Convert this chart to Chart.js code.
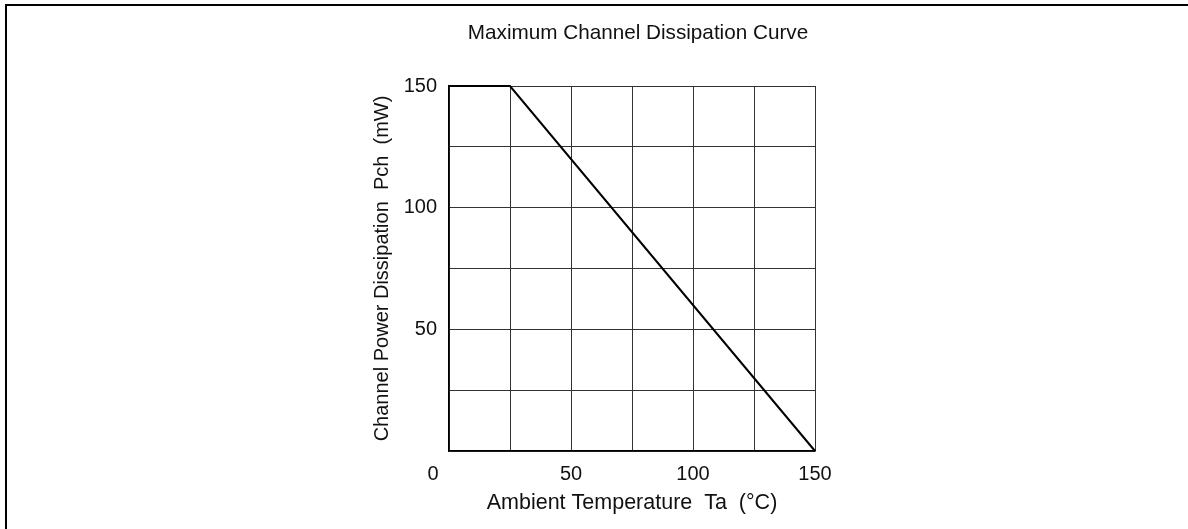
<!DOCTYPE html>
<html>
<head>
<meta charset="utf-8">
<script src="https://cdn.jsdelivr.net/npm/chart.js@4.4.0/dist/chart.umd.min.js"></script>
<style>
  html, body { margin: 0; padding: 0; background: #fff; overflow: hidden; width: 1188px; height: 529px; }
  #frame { position: absolute; left: 5px; top: 4px; width: 1300px; height: 600px; border-top: 2px solid #000; border-left: 2px solid #000; }
  #wrap { position: absolute; left: 0; top: 0; width: 1188px; height: 529px; }
</style>
</head>
<body>
<div id="frame"></div>
<div id="wrap"><canvas id="c" width="1188" height="529"></canvas></div>
<script>
// ---- data ----
const chartTitle = 'Maximum Channel Dissipation Curve';
const xTitle = 'Ambient Temperature  Ta  (\u00B0C)';
const yTitle = 'Channel Power Dissipation  Pch  (mW)';
const temperature = [0, 25, 150];      // Ta (°C)
const dissipation = [150, 150, 0];     // Pch (mW)
const xTickLabels = [50, 100, 150];
const yTickLabels = [50, 100, 150];
const originLabel = '0';

const FONT = '"Liberation Sans", Arial, Helvetica, sans-serif';
const TXT = '#111';
const FS = 20;

const textPlugin = {
  id: 'textPlugin',
  afterDraw(chart) {
    const ctx = chart.ctx;
    const xs = chart.scales.x, ys = chart.scales.y;
    const area = chart.chartArea;
    ctx.save();
    ctx.fillStyle = TXT;
    ctx.textAlign = 'center';
    ctx.textBaseline = 'middle';
    ctx.font = '20.7px ' + FONT;
    ctx.fillText(chartTitle, 638, 33);
    ctx.font = FS + 'px ' + FONT;
    ctx.fillText(originLabel, xs.getPixelForValue(0) - 16, ys.getPixelForValue(0) + 23);
    ctx.font = '21.5px ' + FONT;
    ctx.fillText(xTitle, 632, 503);
    ctx.font = FS + 'px ' + FONT;
    ctx.translate(382, (area.top + area.bottom) / 2);
    ctx.rotate(-Math.PI / 2);
    ctx.fillText(yTitle, 0, 0);
    ctx.restore();
  }
};

new Chart(document.getElementById('c'), {
  type: 'scatter',
  data: {
    datasets: [{
      data: temperature.map((t, i) => ({ x: t, y: dissipation[i] })),
      showLine: true,
      borderColor: '#000',
      borderWidth: 2,
      pointRadius: 0,
      fill: false,
      tension: 0,
      clip: false
    }]
  },
  options: {
    responsive: false,
    animation: false,
    layout: { padding: { left: 0, top: 86, right: 373, bottom: 0 } },
    plugins: { legend: { display: false }, tooltip: { enabled: false }, title: { display: false } },
    scales: {
      x: {
        type: 'linear', min: 0, max: 150,
        afterFit(s) { s.height = 78; },
        ticks: {
          stepSize: 25, padding: 11, color: TXT, font: { family: FONT, size: FS },
          maxRotation: 0, autoSkip: false,
          callback: v => xTickLabels.includes(v) ? String(v) : ''
        },
        grid: { color: '#333', lineWidth: 1, drawTicks: false },
        border: { display: true, color: '#000', width: 1.5 }
      },
      y: {
        type: 'linear', min: 0, max: 150,
        afterFit(s) { s.width = 449; },
        ticks: {
          stepSize: 25, padding: 12, color: TXT, font: { family: FONT, size: FS },
          autoSkip: false,
          callback: v => yTickLabels.includes(v) ? String(v) : ''
        },
        grid: { color: '#333', lineWidth: 1, drawTicks: false },
        border: { display: true, color: '#000', width: 1.5 }
      }
    }
  },
  plugins: [textPlugin]
});
</script>
</body>
</html>
